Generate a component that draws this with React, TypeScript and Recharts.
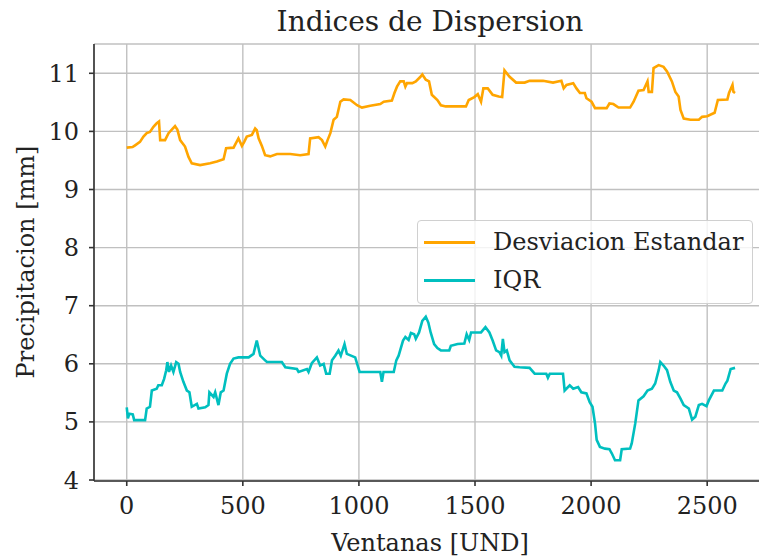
import React from 'react';
import { LineChart, Line, XAxis, YAxis, CartesianGrid, Legend } from 'recharts';

const sdX = [0, 25, 36, 57, 72, 86, 100, 115, 129, 139, 144, 165, 180, 194, 208, 218, 230, 251, 266, 280, 316, 359, 388, 417, 428, 460, 481, 496, 506, 517, 539, 553, 560, 568, 582, 596, 618, 647, 704, 747, 783, 790, 826, 841, 855, 865, 877, 891, 905, 920, 934, 963, 992, 1013, 1049, 1092, 1107, 1142, 1153, 1164, 1178, 1193, 1200, 1207, 1230, 1245, 1265, 1273, 1288, 1302, 1314, 1338, 1353, 1374, 1461, 1473, 1497, 1512, 1526, 1536, 1555, 1576, 1602, 1617, 1627, 1649, 1677, 1714, 1735, 1793, 1836, 1872, 1882, 1894, 1923, 1937, 1952, 1973, 1980, 2002, 2017, 2067, 2079, 2096, 2118, 2168, 2183, 2204, 2226, 2243, 2248, 2262, 2269, 2291, 2312, 2327, 2348, 2363, 2377, 2385, 2399, 2428, 2464, 2478, 2500, 2532, 2546, 2587, 2594, 2609, 2613, 2620];
const sdY = [9.72, 9.73, 9.76, 9.82, 9.91, 9.97, 9.99, 10.08, 10.14, 10.17, 9.85, 9.85, 9.97, 10.03, 10.09, 10.03, 9.85, 9.74, 9.56, 9.45, 9.42, 9.45, 9.48, 9.52, 9.71, 9.72, 9.88, 9.75, 9.82, 9.91, 9.94, 10.05, 10.02, 9.88, 9.75, 9.59, 9.57, 9.61, 9.61, 9.59, 9.61, 9.88, 9.9, 9.85, 9.74, 9.85, 9.97, 10.2, 10.25, 10.51, 10.55, 10.54, 10.45, 10.41, 10.44, 10.47, 10.51, 10.53, 10.66, 10.77, 10.86, 10.86, 10.77, 10.83, 10.83, 10.86, 10.94, 10.98, 10.89, 10.86, 10.63, 10.54, 10.45, 10.43, 10.43, 10.54, 10.59, 10.64, 10.51, 10.74, 10.74, 10.63, 10.6, 10.59, 11.05, 10.94, 10.84, 10.84, 10.87, 10.87, 10.84, 10.87, 10.74, 10.8, 10.83, 10.74, 10.66, 10.66, 10.57, 10.51, 10.4, 10.4, 10.48, 10.47, 10.41, 10.41, 10.51, 10.7, 10.71, 10.86, 10.68, 10.68, 11.09, 11.14, 11.11, 11.03, 10.86, 10.68, 10.6, 10.37, 10.22, 10.2, 10.2, 10.25, 10.26, 10.32, 10.54, 10.55, 10.66, 10.8, 10.68, 10.66];

const iqrX = [0, 5, 11, 26, 32, 79, 86, 100, 108, 129, 136, 151, 161, 170, 175, 182, 191, 201, 213, 223, 230, 244, 259, 270, 280, 302, 309, 338, 352, 356, 374, 381, 395, 405, 417, 431, 445, 460, 481, 525, 546, 560, 575, 596, 604, 668, 683, 733, 740, 776, 783, 797, 819, 833, 848, 859, 874, 884, 898, 912, 922, 938, 948, 984, 1003, 1092, 1099, 1106, 1150, 1161, 1171, 1190, 1200, 1214, 1224, 1238, 1245, 1259, 1273, 1288, 1299, 1309, 1324, 1338, 1353, 1389, 1396, 1425, 1454, 1464, 1475, 1483, 1526, 1545, 1562, 1576, 1591, 1605, 1613, 1620, 1627, 1637, 1649, 1670, 1692, 1735, 1757, 1807, 1814, 1822, 1879, 1886, 1908, 1923, 1944, 1958, 1980, 1994, 2006, 2017, 2024, 2038, 2060, 2079, 2089, 2103, 2125, 2132, 2168, 2175, 2190, 2204, 2226, 2243, 2262, 2276, 2291, 2298, 2312, 2327, 2341, 2356, 2370, 2385, 2399, 2421, 2435, 2449, 2464, 2478, 2497, 2507, 2529, 2565, 2579, 2587, 2601, 2620];
const iqrY = [5.25, 5.06, 5.14, 5.13, 5.03, 5.03, 5.23, 5.26, 5.54, 5.57, 5.63, 5.63, 5.74, 5.89, 6.03, 5.86, 5.97, 5.86, 6.03, 6.0, 5.86, 5.69, 5.54, 5.51, 5.26, 5.31, 5.23, 5.25, 5.29, 5.51, 5.43, 5.51, 5.29, 5.51, 5.54, 5.83, 6.0, 6.09, 6.11, 6.11, 6.17, 6.4, 6.14, 6.06, 6.03, 6.03, 5.94, 5.91, 5.86, 5.91, 5.86, 6.01, 6.11, 5.97, 6.0, 5.83, 5.83, 6.06, 6.14, 6.23, 6.14, 6.34, 6.17, 6.11, 5.86, 5.86, 5.69, 5.86, 5.86, 6.06, 6.14, 6.4, 6.46, 6.41, 6.53, 6.51, 6.43, 6.54, 6.74, 6.81, 6.71, 6.54, 6.34, 6.27, 6.23, 6.23, 6.31, 6.34, 6.35, 6.51, 6.41, 6.54, 6.54, 6.63, 6.54, 6.4, 6.23, 6.2, 6.14, 6.43, 6.2, 6.23, 6.06, 5.95, 5.94, 5.93, 5.83, 5.83, 5.76, 5.83, 5.83, 5.54, 5.63, 5.57, 5.6, 5.51, 5.49, 5.34, 5.26, 4.97, 4.69, 4.57, 4.54, 4.53, 4.46, 4.34, 4.34, 4.53, 4.54, 4.63, 4.97, 5.37, 5.44, 5.54, 5.57, 5.66, 5.89, 6.03, 5.97, 5.89, 5.69, 5.54, 5.51, 5.4, 5.29, 5.23, 5.04, 5.09, 5.29, 5.31, 5.27, 5.37, 5.54, 5.54, 5.66, 5.71, 5.91, 5.93];

const xTicks = [0, 500, 1000, 1500, 2000, 2500];
const yTicks = [4, 5, 6, 7, 8, 9, 10, 11];

const sdData = sdX.map((x, i) => ({ x, y: sdY[i] }));
const iqrData = iqrX.map((x, i) => ({ x, y: iqrY[i] }));

const FONT = 'DejaVu Serif';
const ORANGE = '#FFA500';
const CYAN = '#00BFBF';

const XLabel = () => (
    <text x={430} y={543} textAnchor="middle" dominantBaseline="central" fontFamily={FONT} fontSize={24} fill="#222">
        Ventanas [UND]
    </text>
);

const YLabel = () => (
    <text x={26} y={262} transform="rotate(-90 26 262)" textAnchor="middle" dominantBaseline="central" fontFamily={FONT} fontSize={24} fill="#222">
        Precipitacion [mm]
    </text>
);

const LegendBox = () => (
    <div
        style={{
            width: 334,
            height: 82,
            border: '1px solid #d0d0d0',
            borderRadius: 4,
            background: 'rgba(255,255,255,0.8)',
            fontFamily: FONT,
            fontSize: 24,
            color: '#222',
            position: 'relative',
        }}
    >
        {[
            { name: 'Desviacion Estandar', color: ORANGE, y: 21 },
            { name: 'IQR', color: CYAN, y: 59 },
        ].map((item) => (
            <div key={item.name} style={{ position: 'absolute', left: 6, top: item.y - 14, height: 28, display: 'flex', alignItems: 'center' }}>
                <div style={{ width: 51, height: 3, background: item.color }} />
                <span style={{ marginLeft: 18, lineHeight: '28px' }}>{item.name}</span>
            </div>
        ))}
    </div>
);

const App = () => {
    return (
        <div style={{ position: 'absolute', left: 0, top: 0, width: 759, height: 558, overflow: 'hidden', background: '#fff' }}>
            <div
                style={{
                    position: 'absolute',
                    left: 130,
                    top: 6,
                    width: 600,
                    lineHeight: '32px',
                    textAlign: 'center',
                    fontFamily: FONT,
                    fontSize: 28,
                    color: '#222',
                }}
            >
                Indices de Dispersion
            </div>
            <LineChart width={800} height={558} margin={{ top: 44, right: 35, bottom: 0, left: 0 }}>
                <CartesianGrid stroke="#c0c0c0" strokeWidth={1.4} />
                <XAxis
                    dataKey="x"
                    type="number"
                    domain={[-141, 2749]}
                    ticks={xTicks}
                    allowDataOverflow
                    height={77}
                    stroke="#333"
                    strokeWidth={1.6}
                    tickSize={5}
                    tickMargin={11}
                    tick={{ fontFamily: FONT, fontSize: 24, fill: '#222' }}
                    label={<XLabel />}
                />
                <XAxis
                    xAxisId="top"
                    orientation="top"
                    type="number"
                    domain={[-141, 2749]}
                    height={0}
                    tick={false}
                    tickLine={false}
                    stroke="#333"
                    strokeWidth={1.6}
                />
                <YAxis
                    type="number"
                    domain={[3.983, 11.504]}
                    ticks={yTicks}
                    allowDataOverflow
                    width={94}
                    stroke="#333"
                    strokeWidth={1.6}
                    tickSize={5}
                    tickMargin={10}
                    tick={{ fontFamily: FONT, fontSize: 24, fill: '#222' }}
                    label={<YLabel />}
                />
                <Line data={sdData} dataKey="y" name="Desviacion Estandar" type="linear" stroke={ORANGE} strokeWidth={2.6} dot={false} isAnimationActive={false} />
                <Line data={iqrData} dataKey="y" name="IQR" type="linear" stroke={CYAN} strokeWidth={2.6} dot={false} isAnimationActive={false} />
                <Legend
                    layout="vertical"
                    align="center"
                    verticalAlign="middle"
                    wrapperStyle={{ left: 417, top: 220, width: 336, height: 84 }}
                    content={<LegendBox />}
                />
            </LineChart>
        </div>
    );
};

export default App;
